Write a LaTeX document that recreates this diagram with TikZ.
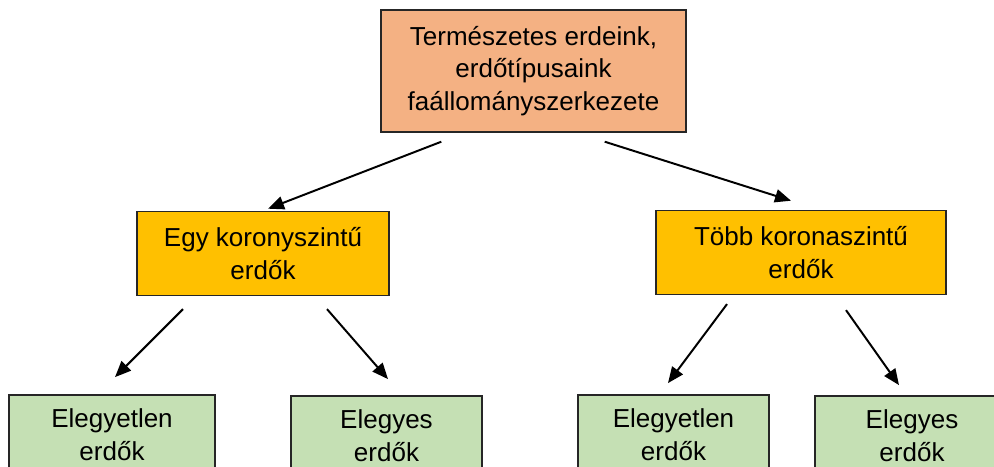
\documentclass[tikz,border=0pt]{standalone}
\usepackage{fontspec}
\setmainfont{Liberation Sans}
\usepackage{xcolor}
\usepackage{tikz}
\usetikzlibrary{positioning, arrows.meta, calc}

\definecolor{salmon}{HTML}{F4B183}
\definecolor{amber}{HTML}{FFC000}
\definecolor{palegreen}{HTML}{C5E0B4}

\tikzset{
  box/.style={draw=black!85, line width=1pt, align=center,
    font=\fontsize{18.5pt}{23pt}\selectfont, inner sep=2pt},
  topbox/.style={box, fill=salmon, minimum width=7.625cm, minimum height=3.05cm},
  midbox/.style={box, fill=amber, minimum height=2.1cm},
  leafbox/.style={box, fill=palegreen, minimum height=2.0cm},
  arr/.style={line width=1.4pt, -{Triangle[length=0.4cm, width=0.33cm]}}
}

\begin{document}
\begin{tikzpicture}

  \clip (0,0) rectangle (24.85,-11.65);
  \useasboundingbox (0,0) rectangle (24.85,-11.65);

  % Define nodes
  \node[topbox] (top) at (13.3375,-1.775)
    {Természetes erdeink,\\erdőtípusaink\\faállományszerkezete};
  \node[midbox, minimum width=6.3cm, below=1.95cm of top, xshift=-6.7625cm] (egy)
    {Egy koronyszintű\\erdők};
  \node[midbox, minimum width=7.25cm, below=1.925cm of top, xshift=6.6875cm] (tobb)
    {Több koronaszintű\\erdők};
  \node[leafbox, minimum width=5.15cm, below=2.45cm of egy, xshift=-3.775cm] (egyetlenA)
    {Elegyetlen\\erdők};
  \node[leafbox, minimum width=4.775cm, below=2.475cm of egy, xshift=3.0875cm] (egyesA)
    {Elegyes\\erdők};
  \node[leafbox, minimum width=4.775cm, below=2.475cm of tobb, xshift=-3.1875cm] (egyetlenB)
    {Elegyetlen\\erdők};
  \node[leafbox, minimum width=4.85cm, below=2.5cm of tobb, xshift=2.775cm] (egyesB)
    {Elegyes\\erdők};

  % Connect the nodes
  \draw[arr] ($(top.south west)+(1.525,-0.225)$) -- ($(egy.north)+(0.125,0.05)$);
  \draw[arr] ($(top.south east)+(-2.05,-0.225)$) -- ($(tobb.north)+(-0.25,0.225)$);
  \draw[arr] ($(egy.south)+(-2.0,-0.325)$) -- ($(egyetlenA.north)+(0.075,0.425)$);
  \draw[arr] ($(egy.south)+(1.6,-0.325)$) -- ($(egyesA.north)+(0.0375,0.4)$);
  \draw[arr] ($(tobb.south)+(-1.85,-0.225)$) -- ($(egyetlenB.north)+(-0.1375,0.275)$);
  \draw[arr] ($(tobb.south)+(1.125,-0.375)$) -- ($(egyesB.north)+(-0.325,0.25)$);

\end{tikzpicture}
\end{document}
